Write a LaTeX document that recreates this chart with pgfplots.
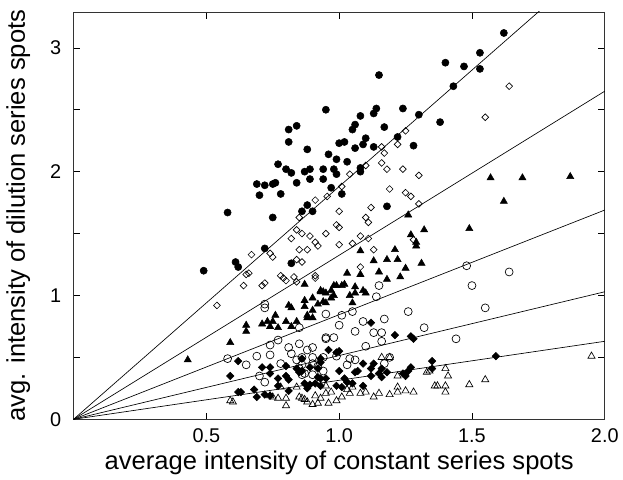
\documentclass[border=0pt]{standalone}
\usepackage{fontspec}
\setmainfont{Liberation Sans}
\usepackage{pgfplots}
\pgfplotsset{compat=1.18}

\begin{document}
\begin{tikzpicture}
\begin{axis}[
    scale only axis,
    width=401pt, height=307.5pt,
    xmin=0, xmax=2.0, ymin=0, ymax=3.29,
    xtick={0.5,1.0,1.5,2.0},
    xticklabels={0.5,1.0,1.5,2.0},
    ytick={0,1,2,3},
    minor ytick={0.5,1.5,2.5},
    tick align=inside,
    major tick length=5pt, minor tick length=5pt,
    axis line style={black!80, line width=0.6pt},
    every tick/.style={black, line width=0.5pt},
    tick label style={font=\fontsize{15}{17}\selectfont},
    yticklabel style={anchor=center, xshift=-13.5pt},
    xticklabel style={anchor=center, yshift=-12.7pt},
    /pgf/number format/assume math mode=true,
    label style={font=\fontsize{19.3}{22}\selectfont},
    xlabel={average intensity of constant series spots},
    ylabel={avg. intensity of dilution series spots},
    xlabel style={at={(axis description cs:0.5,-0.107)}, anchor=center},
    ylabel style={at={(axis description cs:-0.104,0.5)}, anchor=center},
    clip=true,
]
% fitted lines through the origin
\addplot[black, line width=0.5pt] coordinates {(0,0) (2,3.76)};
\addplot[black, line width=0.5pt] coordinates {(0,0) (2,2.65)};
\addplot[black, line width=0.5pt] coordinates {(0,0) (2,1.69)};
\addplot[black, line width=0.5pt] coordinates {(0,0) (2,1.03)};
\addplot[black, line width=0.5pt] coordinates {(0,0) (2,0.63)};

% filled circles
\addplot[only marks, mark=*, mark size=2.7pt, black] coordinates {
(0.49,1.20) (0.61,1.27) (0.62,1.23) (0.72,1.38) (0.82,1.26) (0.58,1.67) (0.75,1.63)
(0.69,1.90) (0.70,1.81) (0.72,1.89) (0.75,1.90) (0.76,1.91) (0.78,1.82) (0.77,2.06)
(0.80,2.02) (0.82,1.99) (0.84,1.91) (0.87,2.00) (0.89,2.02) (0.89,1.94) (0.88,2.18)
(0.81,2.24) (0.81,2.34) (0.84,2.37) (0.95,2.50) (0.94,2.02) (0.94,1.94) (0.86,1.68)
(0.88,1.73) (0.90,1.68) (0.96,2.14) (1.08,2.45) (1.13,2.47) (1.14,2.51) (1.24,2.51)
(1.30,2.46) (1.38,2.40) (1.06,2.38) (1.05,2.34) (1.17,2.36) (1.22,2.28) (1.00,2.23)
(1.02,2.24) (1.10,2.27) (1.09,2.22) (1.06,2.19) (1.13,2.20) (1.28,2.21) (0.99,2.10)
(1.03,2.08) (0.98,2.02) (0.99,1.98) (1.08,2.03) (1.08,2.00) (0.97,1.87) (1.01,1.82)
(1.18,1.72) (1.62,3.12) (1.53,2.96) (1.53,2.83) (1.47,2.85) (1.40,2.88) (1.43,2.69)
(1.15,2.78)
};

% open diamonds
\addplot[only marks, mark=square, mark size=1.8pt, black, mark options={rotate=45, fill=white, line width=0.5pt}] coordinates {
(0.54,0.92) (0.64,1.08) (0.65,1.17) (0.66,1.18) (0.67,1.33) (0.71,1.08) (0.72,1.10)
(0.74,1.34) (0.75,1.31) (0.78,1.16) (0.79,1.14) (0.80,1.12) (0.82,1.46) (0.84,1.53)
(0.86,1.50) (0.85,1.37) (0.88,1.37) (0.84,1.29) (0.86,1.27) (0.83,1.15) (0.84,1.11)
(0.91,1.16) (0.91,1.14) (0.89,1.48) (0.91,1.43) (0.92,1.40) (0.95,1.50) (0.91,1.77)
(0.85,1.63) (0.955,1.80) (1.01,1.88) (1.04,1.98) (1.10,2.05) (1.16,2.20) (1.17,2.15)
(1.16,2.07) (1.18,2.02) (1.24,2.02) (1.22,2.22) (1.25,2.33) (1.30,1.97) (1.19,1.86)
(1.25,1.83) (1.27,1.80) (1.30,1.74) (1.12,1.71) (1.00,1.68) (1.10,1.63) (1.11,1.59)
(0.99,1.57) (1.00,1.55) (1.55,2.44) (1.64,2.69) (1.00,1.41) (1.05,1.42) (1.08,1.48)
(1.11,1.46) (1.13,1.37) (1.08,1.23) (1.28,1.45)
};

% filled triangles
\addplot[only marks, mark=triangle*, mark size=3.1pt, black] coordinates {
(0.43,0.48) (0.59,0.62) (0.65,0.76) (0.65,0.71) (0.71,0.77) (0.73,0.79) (0.76,0.84)
(0.75,0.79) (0.74,0.75) (0.77,0.74) (0.80,0.79) (0.82,0.75) (0.84,0.79) (0.81,0.92)
(0.82,0.90) (0.87,1.09) (0.87,0.96) (0.87,0.91) (0.90,0.98) (0.90,0.88) (0.88,0.84)
(0.88,0.82) (0.90,0.82) (0.92,0.93) (0.93,1.03) (0.95,1.02) (0.95,0.94) (1.32,1.53)
(1.27,1.49) (1.29,1.43) (1.29,1.40) (1.49,1.54) (1.08,1.36) (1.21,1.37) (1.13,1.28)
(1.18,1.29) (1.22,1.29) (1.31,1.26) (1.25,1.22) (1.03,1.18) (1.08,1.17) (1.15,1.19)
(1.18,1.13) (1.23,1.15) (0.98,1.08) (0.99,1.08) (1.01,1.08) (1.02,1.09) (1.06,1.07)
(1.09,1.04) (1.10,1.02) (1.06,1.02) (0.93,1.04) (0.94,1.03) (0.97,1.04) (0.98,1.00)
(0.97,0.98) (0.94,0.95) (1.04,1.00) (1.05,0.94) (1.57,1.95) (1.69,1.95) (1.87,1.96)
(1.62,1.76) (1.26,1.65)
};

% open circles
\addplot[only marks, mark=o, mark size=3.0pt, black, mark options={fill=white, line width=0.5pt}] coordinates {
(0.58,0.49) (0.65,0.44) (0.72,0.90) (0.72,0.93) (0.69,0.51) (0.74,0.52) (0.74,0.60)
(0.77,0.64) (0.78,0.45) (0.81,0.58) (0.82,0.53) (0.85,0.61) (0.84,0.48) (0.88,0.56)
(0.90,0.58) (0.90,0.50) (0.86,0.44) (0.85,0.74) (0.90,0.36) (0.86,0.36) (0.72,0.30)
(0.95,0.65) (0.86,0.50) (0.90,0.45) (0.85,0.41) (0.87,0.37) (0.70,0.35) (0.92,0.43)
(0.94,0.39) (0.94,0.50) (1.01,0.84) (1.09,0.79) (1.17,0.81) (1.00,0.76) (1.06,0.71)
(1.13,0.70) (1.16,0.70) (1.16,0.63) (1.10,0.59) (1.32,0.74) (1.44,0.65) (0.95,0.66)
(0.98,0.66) (0.99,0.51) (1.04,0.49) (1.06,0.48) (1.03,0.44) (1.19,0.50) (1.17,0.45)
(1.48,1.24) (1.50,1.08) (1.15,1.08) (1.14,0.99) (1.26,0.87) (1.05,0.87) (0.95,0.85)
(1.55,0.90) (1.64,1.19)
};

% filled diamonds
\addplot[only marks, mark=square*, mark size=2.0pt, black, mark options={rotate=45}] coordinates {
(0.62,0.47) (0.59,0.35) (0.62,0.22) (0.63,0.22) (0.68,0.24) (0.69,0.18) (0.72,0.20)
(0.71,0.42) (0.74,0.42) (0.74,0.37) (0.77,0.27) (0.77,0.33) (0.80,0.35) (0.80,0.43)
(0.81,0.32) (0.84,0.41) (0.86,0.49) (0.89,0.42) (0.93,0.46) (0.92,0.41) (0.87,0.29)
(0.89,0.28) (0.91,0.29) (0.93,0.27) (0.88,0.25) (0.81,0.23) (0.74,0.19) (0.95,0.33)
(1.12,0.78) (1.21,0.68) (1.27,0.67) (1.28,0.65) (0.96,0.56) (1.00,0.55) (0.99,0.54)
(0.93,0.49) (1.09,0.45) (1.13,0.45) (1.35,0.47) (1.12,0.41) (1.07,0.39) (1.06,0.38)
(1.16,0.41) (1.18,0.38) (1.00,0.39) (1.12,0.35) (1.15,0.37) (1.16,0.34) (1.27,0.42)
(1.26,0.39) (1.24,0.37) (1.25,0.35) (1.35,0.41) (0.92,0.34) (0.93,0.33) (1.02,0.33)
(1.03,0.30) (1.05,0.29) (1.01,0.26) (1.09,0.27) (0.99,0.27) (1.59,0.51) (0.85,0.38)
(0.86,0.39)
};

% open triangles
\addplot[only marks, mark=triangle, mark size=3.1pt, black, mark options={fill=white, line width=0.5pt}] coordinates {
(0.60,0.14) (0.59,0.15) (0.74,0.19) (0.75,0.18) (0.78,0.26) (0.80,0.17) (0.80,0.11)
(0.84,0.26) (0.86,0.17) (0.88,0.14) (0.92,0.13) (0.93,0.17) (0.91,0.19) (0.95,0.21)
(0.77,0.17) (0.85,0.18) (0.87,0.16) (1.16,0.50) (1.19,0.50) (1.22,0.35) (1.33,0.38)
(1.34,0.39) (1.40,0.41) (1.41,0.35) (1.22,0.26) (1.25,0.23) (1.28,0.22) (1.22,0.22)
(1.19,0.20) (1.15,0.21) (1.13,0.18) (1.36,0.27) (1.37,0.27) (1.40,0.27) (1.40,0.22)
(1.49,0.28) (1.55,0.32) (1.10,0.22) (1.08,0.21) (1.04,0.21) (1.01,0.18) (1.05,0.26)
(0.97,0.22) (0.95,0.27) (1.95,0.51) (0.99,0.15) (0.96,0.13) (0.90,0.12) (1.03,0.24)
};
\end{axis}
\path (-55.5pt,-41.25pt) rectangle (411.5pt,316.5pt);
\end{tikzpicture}
\end{document}
